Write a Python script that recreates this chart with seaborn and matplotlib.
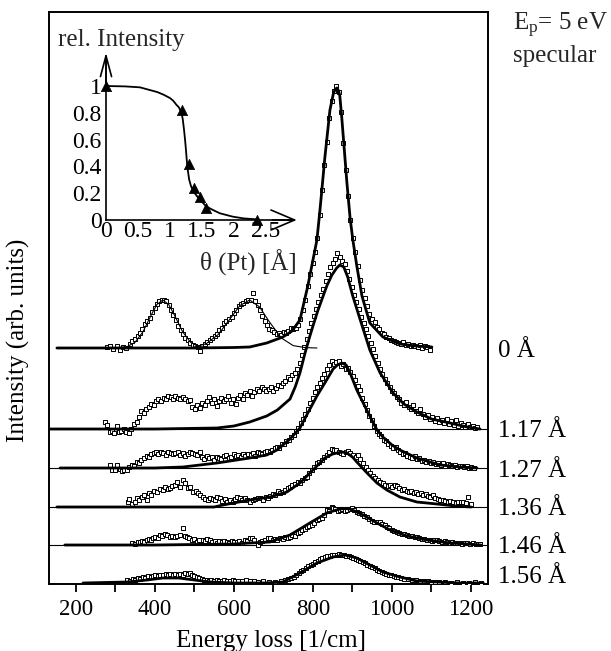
import matplotlib
matplotlib.use("Agg")
import matplotlib.pyplot as plt
import seaborn as sns
import numpy as np

# ---------------- data ----------------
labels = ["0 Å", "1.17 Å", "1.27 Å", "1.36 Å", "1.46 Å", "1.56 Å"]
offsets = [236, 155, 116, 77, 39, 1]          # baseline of every spectrum (arb. units)
baseline_lines = [155, 116, 77, 39]             # thin full-width reference lines

# fitted curves (energy loss, intensity above baseline)
fit_0 = [(152, 0), (300, 0), (500, 0), (600, 0.5), (640, 1), (683, 5), (724, 11), (747, 17), (767, 28),
         (787, 62), (810, 108), (817, 135), (823, 160), (830, 190), (843, 238), (852, 255), (857, 259),
         (861, 260), (865, 257), (868, 252), (873, 230), (879, 200), (886, 165), (894, 130), (901, 108),
         (911, 82), (924, 52), (944, 25), (977, 11), (1020, 4), (1060, 2), (1101, 1)]
gauss_0a = [(300, 0.1), (330, 1.4), (350, 5.8), (370, 16.3), (390, 32.5), (405, 43.5), (420, 48),
            (435, 43.5), (450, 32.5), (470, 16.3), (490, 5.8), (510, 1.4), (540, 0.1)]
gauss_0b = [(500, 1), (530, 4.3), (560, 13.4), (590, 29), (615, 42.4), (640, 48), (665, 41),
            (690, 26), (720, 10), (750, 2.4), (780, 0.4), (810, 0)]
fit_1 = [(134, 0), (400, 0), (557, 1), (600, 3), (640, 7), (683, 13), (710, 19), (742, 30), (755, 42),
         (767, 56), (780, 76), (790, 90), (800, 103), (812, 118), (823, 130), (835, 143), (848, 154),
         (860, 161), (868, 164), (878, 162), (888, 152), (900, 134), (919, 110), (944, 79), (970, 56),
         (1003, 36), (1030, 25), (1063, 17), (1100, 10), (1147, 6), (1190, 2), (1223, 0)]
fit_2 = [(160, 0), (400, 0), (471, 1), (557, 5), (640, 10), (683, 13), (709, 18), (742, 29), (767, 40),
         (787, 55), (810, 72), (830, 85), (851, 99), (862, 103), (873, 105), (884, 103), (894, 95),
         (911, 78), (936, 58), (962, 38), (977, 31), (1000, 23), (1020, 18), (1063, 10), (1122, 3),
         (1170, 1), (1215, 0)]
fit_3 = [(152, 0), (550, 0), (572, 2), (640, 7), (691, 10), (734, 15), (767, 24), (800, 37), (830, 49),
         (850, 53), (861, 54), (874, 55), (886, 54), (900, 50), (911, 45), (937, 34), (962, 24),
         (987, 17), (1020, 10), (1063, 5), (1114, 3), (1160, 1), (1200, 0)]
fit_4 = [(172, 0), (400, 0), (600, 1), (640, 2), (691, 3), (742, 10), (792, 22), (835, 32), (868, 36),
         (881, 36.5), (894, 36), (927, 30), (962, 22), (995, 15), (1038, 9), (1089, 5), (1147, 2),
         (1190, 1), (1225, 0)]
fit_5 = [(218, 0), (330, 1), (380, 3), (420, 5), (460, 5), (500, 3), (540, 1), (600, 0), (680, 0),
         (724, 1), (767, 10), (810, 20), (851, 26), (881, 28), (911, 25), (944, 18), (977, 11),
         (1020, 6), (1063, 2), (1114, 1), (1170, 0), (1231, 0)]

# measured points (energy loss, intensity above baseline)
pts_0 = [(278, 1), (287, 2), (295, -1), (303, 2), (311, -2), (320, 1), (328, 0), (336, 4), (342, 7),
         (350, 9), (356, 12), (362, 15), (368, 19), (374, 24), (380, 27), (387, 30), (393, 36), (399, 40),
         (405, 44), (411, 47), (417, 48), (423, 48), (429, 47), (435, 43), (441, 38), (447, 33), (453, 28),
         (459, 22), (465, 18), (471, 14), (477, 10), (483, 8), (490, 5), (496, 3), (502, 2), (508, 1),
         (514, -3), (520, 2), (527, 4), (533, 6), (539, 8), (545, 10), (551, 12), (557, 14), (563, 18),
         (569, 20), (575, 25), (581, 27), (587, 29), (594, 31), (600, 35), (606, 38), (612, 42), (618, 44),
         (624, 45), (630, 47), (636, 48), (642, 48), (648, 55), (654, 47), (660, 43), (666, 38), (672, 32),
         (678, 27), (684, 23), (690, 19), (696, 18), (702, 16), (708, 14), (714, 15), (720, 13), (726, 16),
         (732, 15), (738, 17), (744, 20), (750, 19), (756, 20), (762, 23), (768, 29), (775, 38), (781, 48),
         (787, 62), (793, 74), (799, 85), (805, 96), (811, 110), (817, 133), (823, 158), (829, 183),
         (835, 206), (841, 230), (847, 247), (853, 257), (859, 262), (865, 256), (871, 236), (877, 205),
         (883, 178), (889, 152), (895, 128), (901, 110), (907, 96), (913, 82), (919, 68), (925, 58),
         (931, 50), (937, 42), (943, 34), (950, 29), (956, 26), (962, 21), (968, 19), (974, 15), (980, 14),
         (986, 11), (992, 10), (998, 8), (1004, 7), (1010, 6), (1016, 5), (1022, 4), (1028, 6), (1035, 3),
         (1041, 4), (1047, 2), (1053, 3), (1059, 2), (1065, 1), (1071, 3), (1077, 0), (1083, 2), (1089, 1),
         (1095, -2)]
pts_1 = [(273, 7), (280, 4), (286, -3), (291, -2), (297, -4), (303, 3), (309, -3), (315, -2), (321, 0),
         (328, -3), (334, -4), (340, 0), (346, 5), (354, 7), (360, 12), (366, 18), (372, 16), (378, 20),
         (385, 22), (391, 25), (397, 24), (403, 28), (409, 30), (416, 28), (422, 31), (428, 30), (434, 33),
         (440, 32), (446, 30), (452, 33), (458, 31), (464, 30), (470, 32), (476, 30), (483, 28), (489, 29),
         (495, 22), (501, 20), (507, 24), (513, 21), (519, 26), (526, 24), (532, 28), (538, 32), (544, 26),
         (550, 30), (556, 23), (562, 28), (568, 31), (574, 28), (580, 30), (586, 33), (592, 26), (598, 30),
         (604, 25), (610, 31), (616, 34), (622, 30), (628, 36), (634, 34), (640, 38), (646, 33), (652, 37),
         (658, 40), (664, 38), (670, 42), (676, 40), (682, 38), (688, 40), (694, 42), (700, 38), (706, 41),
         (712, 44), (718, 43), (724, 46), (730, 48), (736, 52), (742, 50), (748, 54), (754, 56), (760, 60),
         (766, 66), (772, 74), (778, 82), (784, 90), (790, 98), (796, 106), (802, 113), (808, 120),
         (814, 127), (820, 134), (826, 140), (832, 148), (838, 155), (844, 162), (850, 166), (856, 170),
         (862, 176), (868, 172), (874, 168), (880, 165), (886, 158), (892, 150), (898, 142), (904, 134),
         (910, 127), (916, 120), (922, 112), (928, 106), (934, 100), (940, 93), (946, 86), (952, 80),
         (958, 73), (964, 66), (970, 60), (976, 55), (982, 50), (988, 46), (994, 42), (1000, 38), (1006, 36),
         (1012, 32), (1018, 30), (1024, 26), (1030, 24), (1036, 27), (1042, 22), (1048, 20), (1054, 24),
         (1060, 18), (1066, 16), (1072, 20), (1078, 15), (1084, 12), (1090, 14), (1096, 10), (1102, 12),
         (1108, 8), (1114, 11), (1120, 7), (1126, 9), (1132, 6), (1138, 10), (1144, 5), (1150, 8), (1156, 4),
         (1162, 9), (1168, 3), (1174, 6), (1180, 4), (1186, 2), (1192, 5), (1198, 2), (1204, 3), (1210, 1),
         (1216, 2)]
pts_2 = [(286, 3), (292, -2), (299, -2), (305, 3), (311, -1), (317, -3), (323, -2), (329, -2), (335, 1),
         (341, 3), (348, 2), (354, 6), (360, 5), (366, 8), (372, 10), (379, 12), (385, 11), (391, 14),
         (397, 15), (403, 16), (409, 14), (415, 16), (421, 15), (428, 13), (434, 16), (440, 15), (446, 14),
         (452, 15), (458, 16), (464, 13), (470, 15), (477, 12), (483, 14), (489, 16), (495, 15), (501, 14),
         (507, 13), (513, 16), (519, 11), (525, 9), (532, 12), (538, 10), (544, 11), (550, 8), (556, 11),
         (562, 10), (568, 9), (575, 12), (581, 13), (587, 10), (593, 11), (599, 14), (605, 12), (611, 13),
         (617, 11), (623, 14), (629, 12), (636, 14), (642, 13), (648, 15), (654, 12), (660, 16), (666, 15),
         (672, 14), (678, 16), (684, 17), (691, 16), (697, 18), (703, 20), (709, 21), (715, 20), (721, 24),
         (727, 24), (733, 27), (739, 28), (745, 31), (751, 33), (757, 37), (763, 40), (769, 45), (775, 49),
         (781, 54), (787, 59), (793, 65), (799, 70), (805, 76), (811, 81), (817, 85), (823, 90), (829, 94),
         (835, 99), (841, 103), (847, 107), (853, 104), (859, 106), (865, 107), (871, 102), (877, 104),
         (883, 99), (889, 100), (895, 96), (901, 92), (907, 88), (913, 82), (919, 78), (925, 70), (931, 64),
         (937, 58), (943, 52), (949, 48), (955, 42), (961, 37), (967, 34), (973, 32), (979, 28), (985, 27),
         (991, 24), (997, 22), (1003, 20), (1009, 21), (1015, 18), (1021, 16), (1027, 14), (1033, 15),
         (1039, 12), (1045, 11), (1051, 10), (1057, 12), (1063, 9), (1069, 10), (1075, 7), (1081, 8),
         (1087, 6), (1093, 7), (1099, 5), (1105, 6), (1111, 4), (1117, 5), (1123, 3), (1129, 5), (1135, 2),
         (1141, 4), (1147, 3), (1153, 2), (1159, 3), (1165, 1), (1171, 2), (1177, 2), (1183, 1), (1189, 2),
         (1195, 0), (1201, 1), (1207, 0)]
pts_3 = [(332, 5), (335, 8), (341, 3), (349, 5), (355, 9), (361, 7), (367, 10), (373, 12), (379, 7),
         (385, 14), (391, 12), (398, 16), (405, 15), (412, 18), (420, 17), (426, 20), (432, 18), (438, 19),
         (444, 21), (451, 22), (457, 25), (463, 20), (470, 27), (476, 24), (484, 19), (490, 20), (496, 15),
         (503, 16), (509, 14), (515, 12), (521, 10), (527, 8), (534, 7), (540, 9), (546, 8), (552, 7),
         (558, 10), (565, 9), (571, 6), (577, 8), (582, 5), (589, 7), (597, 5), (603, 8), (609, 10),
         (615, 9), (621, 7), (627, 9), (633, 7), (640, 5), (648, 7), (654, 8), (660, 9), (666, 9), (673, 7),
         (680, 10), (686, 9), (692, 11), (698, 13), (705, 12), (711, 16), (717, 14), (724, 15), (730, 17),
         (736, 19), (742, 20), (748, 22), (755, 23), (761, 25), (767, 24), (773, 27), (779, 29), (784, 30),
         (791, 34), (797, 37), (803, 40), (810, 44), (816, 45), (823, 47), (829, 50), (835, 52), (841, 55),
         (847, 58), (853, 57), (859, 57), (865, 55), (871, 54), (877, 53), (883, 55), (889, 56), (895, 54),
         (901, 52), (908, 50), (914, 52), (920, 48), (927, 44), (933, 40), (939, 37), (945, 34), (952, 31),
         (958, 29), (964, 27), (970, 25), (977, 24), (983, 22), (989, 21), (995, 22), (1001, 20), (1007, 22),
         (1013, 21), (1019, 19), (1025, 17), (1031, 18), (1037, 16), (1043, 15), (1049, 16), (1055, 14),
         (1061, 15), (1067, 13), (1073, 14), (1079, 12), (1085, 13), (1091, 11), (1097, 10), (1104, 12),
         (1110, 9), (1116, 8), (1122, 7), (1129, 7), (1135, 6), (1141, 5), (1147, 6), (1155, 5), (1161, 4),
         (1167, 5), (1174, 5), (1180, 5), (1187, 4), (1193, 10), (1199, 3)]
pts_4 = [(342, 2), (350, 1), (356, 3), (362, 3), (368, 4), (373, 3), (379, 5), (385, 6), (391, 5), (395, 7),
         (401, 8), (407, 7), (413, 10), (419, 9), (425, 11), (431, 10), (438, 8), (444, 9), (451, 8),
         (457, 9), (463, 10), (471, 17), (476, 9), (481, 8), (487, 7), (494, 5), (500, 6), (506, 3),
         (512, 5), (521, 5), (527, 4), (533, 6), (539, 5), (545, 3), (551, 4), (557, 2), (563, 4), (570, 3),
         (576, 4), (582, 3), (588, 2), (594, 4), (601, 3), (608, 3), (614, 4), (620, 2), (628, 5), (634, 4),
         (640, 7), (646, 7), (652, 5), (661, 0), (666, 3), (672, 4), (679, 5), (686, 7), (691, 7), (698, 5),
         (704, 6), (710, 5), (717, 7), (723, 6), (730, 8), (736, 7), (742, 8), (748, 10), (755, 9),
         (761, 12), (767, 13), (773, 15), (779, 16), (784, 18), (791, 19), (797, 20), (803, 22), (810, 25),
         (816, 26), (823, 27), (829, 30), (835, 35), (841, 34), (847, 38), (851, 37), (857, 36), (863, 34),
         (868, 35), (874, 36), (880, 34), (886, 35), (893, 36), (899, 37), (905, 35), (911, 33), (917, 32),
         (924, 31), (930, 29), (937, 28), (943, 26), (949, 24), (955, 23), (962, 23), (970, 23), (976, 21),
         (982, 20), (987, 18), (993, 17), (999, 15), (1006, 14), (1013, 13), (1019, 12), (1025, 11),
         (1031, 11), (1038, 10), (1044, 9), (1050, 9), (1057, 8), (1063, 8), (1069, 7), (1076, 6), (1082, 6),
         (1089, 5), (1095, 5), (1101, 4), (1107, 5), (1114, 5), (1120, 4), (1126, 3), (1133, 4), (1139, 3),
         (1146, 2), (1152, 3), (1159, 2), (1165, 2), (1172, 2), (1178, 1), (1185, 2), (1191, 2), (1198, 1),
         (1205, 2), (1212, 1), (1218, 1), (1223, 1)]
pts_5 = [(330, 3), (337, 2), (344, 4), (350, 3), (357, 5), (363, 4), (370, 6), (376, 5), (382, 7), (389, 6),
         (395, 7), (401, 8), (408, 7), (414, 8), (420, 8), (427, 9), (433, 8), (439, 9), (445, 8), (452, 9),
         (458, 8), (464, 9), (471, 8), (477, 10), (483, 9), (488, 10), (494, 8), (500, 7), (506, 6),
         (512, 5), (518, 4), (524, 3), (531, 3), (537, 2), (543, 3), (550, 2), (557, 3), (563, 2), (570, 2),
         (576, 3), (582, 2), (590, 2), (597, 3), (603, 2), (610, 2), (620, 2), (630, 3), (640, 2), (650, 2),
         (660, 1), (673, 2), (690, 1), (705, 1), (720, 2), (730, 3), (738, 4), (745, 5), (752, 6), (758, 8),
         (764, 10), (770, 12), (776, 13), (782, 15), (788, 17), (794, 18), (800, 19), (806, 21), (812, 22),
         (818, 24), (824, 25), (830, 26), (836, 27), (842, 27), (848, 28), (854, 28), (860, 28), (866, 29),
         (872, 28), (878, 28), (884, 27), (890, 27), (896, 26), (902, 25), (908, 24), (914, 23), (920, 22),
         (926, 21), (932, 20), (938, 18), (944, 17), (950, 16), (956, 15), (962, 13), (968, 12), (974, 11),
         (980, 10), (986, 9), (992, 8), (998, 8), (1004, 7), (1010, 6), (1016, 6), (1022, 5), (1030, 4),
         (1040, 4), (1050, 3), (1060, 3), (1070, 2), (1080, 2), (1090, 2), (1100, 1), (1110, 1), (1120, 1),
         (1135, 1), (1150, 0), (1165, 1), (1180, 0), (1195, 0), (1210, 1), (1225, 0)]

fits = [fit_0, fit_1, fit_2, fit_3, fit_4, fit_5]
points = [pts_0, pts_1, pts_2, pts_3, pts_4, pts_5]

x_ticks = [200, 400, 600, 800, 1000, 1200]
x_minor = [300, 500, 700, 900, 1100]

# inset: relative intensity vs Pt coverage
cov_pts = [0.0, 1.18, 1.29, 1.37, 1.47, 1.57, 2.36]
rel_pts = [1.0, 0.82, 0.42, 0.24, 0.17, 0.09, 0.0]
cov_fit = [0.0, 0.3, 0.53, 0.8, 0.9, 1.0, 1.05, 1.1, 1.14, 1.18, 1.2, 1.22, 1.235, 1.25, 1.26, 1.27,
           1.285, 1.30, 1.33, 1.36, 1.41, 1.47, 1.52, 1.57, 1.67, 1.78, 1.98, 2.15, 2.35]
rel_fit = [1.0, 0.997, 0.99, 0.955, 0.935, 0.91, 0.89, 0.86, 0.84, 0.80, 0.75, 0.67, 0.60, 0.52, 0.46,
           0.40, 0.35, 0.30, 0.25, 0.22, 0.185, 0.15, 0.125, 0.10, 0.075, 0.05, 0.025, 0.012, 0.005]
inset_xticks = [0, 0.5, 1, 1.5, 2, 2.5]
inset_xticklabels = ["0", "0.5", "1", "1.5", "2", "2.5"]
inset_yticks = [0, 0.2, 0.4, 0.6, 0.8, 1.0]
inset_yticklabels = ["0", "0.2", "0.4", "0.6", "0.8", "1"]

# ---------------- style ----------------
sns.set_theme(style="white")
plt.rcParams["font.family"] = ["Liberation Serif", "DejaVu Serif"]
plt.rcParams["mathtext.fontset"] = "custom"
plt.rcParams["mathtext.rm"] = "Liberation Serif"
plt.rcParams["mathtext.it"] = "Liberation Serif:italic"

W, H = 611, 651
fig = plt.figure(figsize=(W / 100, H / 100), dpi=100)
fig.patch.set_facecolor("white")

L, R, T, B = 49, 488, 12, 584
ax = fig.add_axes([L / W, 1 - B / H, (R - L) / W, (B - T) / H])
ax.set_xlim(132, 1243)
ax.set_ylim(0, B - T)

for y0 in baseline_lines:
    ax.axhline(y0, color="black", lw=0.8, zorder=1)

for off, pts in zip(offsets, points):
    px = [p[0] for p in pts]
    py = [p[1] + off for p in pts]
    sns.scatterplot(x=px, y=py, ax=ax, marker="s", s=11, color="white", edgecolor="black",
                    linewidth=0.7, zorder=3, legend=False)

for comp in (gauss_0a, gauss_0b):
    sns.lineplot(x=[p[0] for p in comp], y=[p[1] + offsets[0] for p in comp], ax=ax,
                 color="black", lw=0.8, estimator=None, sort=False, zorder=4)

for off, fit in zip(offsets, fits):
    sns.lineplot(x=[p[0] for p in fit], y=[p[1] + off for p in fit], ax=ax,
                 color="black", lw=2.0, estimator=None, sort=False, zorder=5)

for s in ax.spines.values():
    s.set_color("black")
    s.set_linewidth(1.4)
ax.set_xticks(x_ticks)
ax.set_xticks(x_minor, minor=True)
ax.set_yticks([])
ax.tick_params(axis="x", which="both", direction="out", length=6, width=1.3, color="black",
               labelsize=16.5, pad=5, labelcolor="black", bottom=True)
ax.set_xlabel("Energy loss [1/cm]", fontsize=18, color="black")
ax.xaxis.label.set_va("baseline")
ax.xaxis.set_label_coords((271 - L) / (R - L), (B - 647) / (B - T))
ax.set_ylabel("Intensity (arb. units)", fontsize=18, color="black")
ax.yaxis.label.set_va("center")
ax.yaxis.label.set_ha("center")
ax.yaxis.set_label_coords((18 - L) / (R - L), (B - 340) / (B - T))

# right-hand labels
label_baselines = [357, 437, 477, 515, 553, 583]
for lab, yb in zip(labels, label_baselines):
    fig.text(498 / W, 1 - yb / H, lab, fontsize=18, va="baseline", ha="left", color="black")
fig.text(513 / W, 1 - 30 / H, r"E$_{\mathrm{p}}$= 5 eV", fontsize=18, va="baseline", ha="left")
fig.text(513 / W, 1 - 62 / H, "specular", fontsize=18, va="baseline", ha="left")

# ---------------- inset ----------------
iL, iR, iT, iB = 87, 300, 50, 232
ins = fig.add_axes([iL / W, 1 - iB / H, (iR - iL) / W, (iB - iT) / H])
ins.patch.set_alpha(0)
ins.set_xlim((iL - 106) / 64, (iR - 106) / 64)
ins.set_ylim((220 - iB) / 134, (220 - iT) / 134)
sns.lineplot(x=cov_fit, y=rel_fit, ax=ins, color="black", lw=1.3, estimator=None, sort=False)
sns.scatterplot(x=cov_pts, y=rel_pts, ax=ins, marker="^", s=55, color="black", edgecolor="black",
                linewidth=0.5, zorder=5, legend=False, clip_on=False)
for side in ("top", "right"):
    ins.spines[side].set_visible(False)
ins.spines["left"].set_position(("data", 0))
ins.spines["bottom"].set_position(("data", 0))
ins.spines["left"].set_bounds(0, 1.2)
ins.spines["bottom"].set_bounds(0, 2.9)
for side in ("left", "bottom"):
    ins.spines[side].set_linewidth(1.2)
    ins.spines[side].set_color("black")
ins.annotate("", xy=(2.98, 0), xytext=(2.6, 0),
             arrowprops=dict(arrowstyle="->,head_length=0.85,head_width=0.36", lw=1.2,
                             color="black", mutation_scale=20, shrinkA=0, shrinkB=0))
ins.annotate("", xy=(0, 1.25), xytext=(0, 1.0),
             arrowprops=dict(arrowstyle="->,head_length=0.75,head_width=0.2", lw=1.2,
                             color="black", mutation_scale=20, shrinkA=0, shrinkB=0))
ins.set_xticks(inset_xticks)
ins.set_xticklabels(inset_xticklabels)
ins.set_yticks(inset_yticks)
ins.set_yticklabels(inset_yticklabels)
ins.tick_params(axis="both", direction="in", length=4, width=1.0, color="black", labelsize=17,
                labelcolor="black", pad=3)
ins.tick_params(axis="x", pad=1)
ins.grid(False)
fig.text(58 / W, 1 - 40 / H, "rel. Intensity", fontsize=18, va="center", ha="left")
fig.text(200 / W, 1 - 263 / H, "θ (Pt) [Å]", fontsize=18, va="center", ha="left")

fig.savefig("out.png", dpi=100, facecolor="white")
